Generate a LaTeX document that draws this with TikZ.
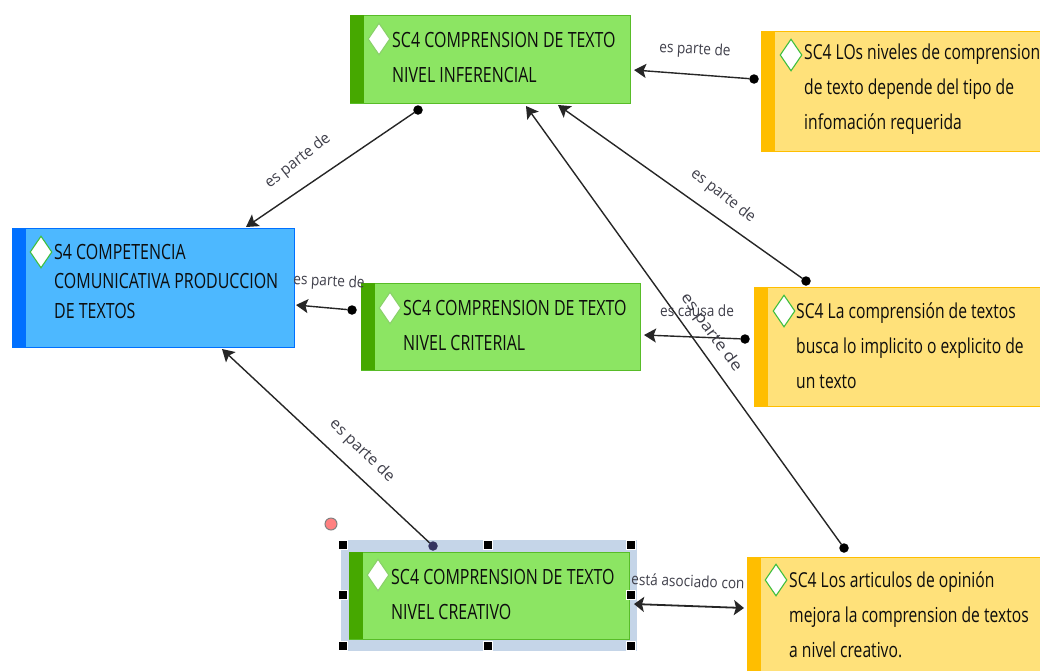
\documentclass[tikz,border=0pt]{standalone}
\usepackage{fontspec}
\setmainfont[FakeStretch=0.76]{Open Sans}
\newfontfamily\labfont[FakeStretch=0.88]{Open Sans}
\usetikzlibrary{shapes.geometric,arrows.meta}
\definecolor{gfill}{HTML}{8CE563}\definecolor{gband}{HTML}{46A800}\definecolor{gline}{HTML}{58BC28}
\definecolor{bfill}{HTML}{4DB8FF}\definecolor{bband}{HTML}{0070FF}
\definecolor{yfill}{HTML}{FFE17A}\definecolor{yband}{HTML}{FFBE00}
\definecolor{lab}{HTML}{3F3F4A}\definecolor{seln}{HTML}{C5D5E8}
\tikzset{
 x=1pt,y=-1pt,
 box/.style={draw=#1,line width=1pt,anchor=north west,inner sep=0,outer sep=0},
 boxtext/.style={anchor=west,align=left,inner sep=0,font=\fontsize{21}{35}\selectfont,text=black!95},
 ytext/.style={anchor=west,align=left,inner sep=0,font=\fontsize{20.6}{35}\selectfont,text=black!95},
 mark diamond/.style={diamond,draw=#1,fill=white,line width=1.1pt,minimum width=22pt,minimum height=32pt,inner sep=0,aspect=0.68},
 conn/.style={draw=black!85,line width=1.4pt,-{Stealth[length=12pt,width=14pt,inset=2.5pt]}},
 both/.style={draw=black!85,line width=1.8pt,{Stealth[length=10pt,width=15pt,inset=2pt]}-{Stealth[length=10pt,width=15pt,inset=2pt]}},
 enddot/.style={circle,fill=#1,minimum size=9.5pt,inner sep=0,outer sep=0},
 connlabel/.style={font=\labfont\fontsize{15.5}{15.5}\selectfont,text=lab,inner sep=0,fill=none},
 handle/.style={fill=black,draw=white,line width=.6pt,minimum size=9pt,inner sep=0},
}
\begin{document}
\begin{tikzpicture}
\useasboundingbox (0,0) rectangle (1040,670);
% selection
\fill[seln] (341,540) rectangle (637,651);
% boxes
\node[box=gline,fill=gfill,minimum width=280pt,minimum height=88pt] (inf) at (350,15) {};
\node[box=gline,fill=gfill,minimum width=279pt,minimum height=87pt] (crit) at (361,283) {};
\node[box=gline,fill=gfill,minimum width=280pt,minimum height=87pt] (cre) at (349,552) {};
\node[box=bband,fill=bfill,minimum width=282pt,minimum height=119pt] (comp) at (12,228) {};
\node[box=yband,fill=yfill,minimum width=290pt,minimum height=120pt] (yone) at (761,31) {};
\node[box=yband,fill=yfill,minimum width=296pt,minimum height=119pt] (ytwo) at (754,287) {};
\node[box=yband,fill=yfill,minimum width=303pt,minimum height=125pt] (ythree) at (747,557) {};
% bands
\fill[gband] (inf.north west) rectangle ([xshift=14pt]inf.south west);
\fill[gband] (crit.north west) rectangle ([xshift=14pt]crit.south west);
\fill[gband] (cre.north west) rectangle ([xshift=14pt]cre.south west);
\fill[bband] (comp.north west) rectangle ([xshift=14pt]comp.south west);
\fill[yband] (yone.north west) rectangle ([xshift=14pt]yone.south west);
\fill[yband] (ytwo.north west) rectangle ([xshift=14pt]ytwo.south west);
\fill[yband] (ythree.north west) rectangle ([xshift=14pt]ythree.south west);
% diamonds
\node[mark diamond=gfill!80!gray] (d1) at (379,39) {};
\node[mark diamond=gfill!80!gray] (d2) at (390,308) {};
\node[mark diamond=gfill!80!gray] (d3) at (378,575) {};
\node[mark diamond=green!50!gray] (d4) at (41,252) {};
\node[mark diamond=green!50!gray] (d5) at (791,55) {};
\node[mark diamond=green!50!gray] (d6) at (784,311) {};
\node[mark diamond=green!50!gray] (d7) at (776,580) {};
% texts
\node[boxtext] (t1) at (392,57) {SC4 COMPRENSION DE TEXTO\\NIVEL INFERENCIAL};
\node[boxtext] (t2) at (403,325) {SC4 COMPRENSION DE TEXTO\\NIVEL CRITERIAL};
\node[boxtext] (t3) at (391,594) {SC4 COMPRENSION DE TEXTO\\NIVEL CREATIVO};
\node[boxtext,font=\fontsize{21}{29.5}\selectfont] (t4) at (54,281) {S4 COMPETENCIA\\COMUNICATIVA PRODUCCION\\DE TEXTOS};
\node[ytext] (t5) at (804,89) {SC4 LOs niveles de comprension\\de texto depende del tipo de\\infomación requerida};
\node[ytext] (t6) at (796,346) {SC4 La comprensión de textos\\busca lo implicito o explicito de\\un texto};
\node[ytext] (t7) at (789,615) {SC4 Los articulos de opinión\\mejora la comprension de textos\\a nivel creativo.};
% end dots
\node[enddot=black] (p1) at ([xshift=68pt,yshift=-7pt]inf.south west) {};
\node[enddot=black] (p2) at ([xshift=-7pt,yshift=-48pt]yone.north west) {};
\node[enddot=black] (p3) at ([xshift=52pt,yshift=6pt]ytwo.north west) {};
\node[enddot=black] (p4) at ([xshift=97pt,yshift=9pt]ythree.north west) {};
\node[enddot=black] (p5) at ([xshift=-9pt,yshift=-27pt]crit.north west) {};
\node[enddot=black] (p6) at ([xshift=-9pt,yshift=-52pt]ytwo.north west) {};
\node[enddot=black!70!blue!60!gray] (p7) at ([xshift=84pt,yshift=6pt]cre.north west) {};
% connectors
\draw[conn] (p1) -- ([xshift=234pt,yshift=1pt]comp.north west);
\draw[conn] (p2) -- ([xshift=4pt,yshift=33pt]inf.south east);
\draw[conn] (p3) -- ([xshift=208pt,yshift=-2pt]inf.south west);
\draw[conn] (p4) -- ([xshift=176pt,yshift=-3pt]inf.south west);
\draw[conn] (p5) -- ([xshift=2pt,yshift=42pt]comp.south east);
\draw[conn] (p6) -- ([xshift=4pt,yshift=35pt]crit.south east);
\draw[conn] (p7) -- ([xshift=210pt,yshift=-2pt]comp.south west);
\draw[both] ([xshift=5pt,yshift=35pt]cre.south east) -- ([xshift=-3pt,yshift=-51pt]ythree.north west);
% labels
\node[connlabel,rotate=38,xscale=1.1] (l1) at (298,161) {es parte de};
\node[connlabel,rotate=-3] (l2) at (695,50) {es parte de};
\node[connlabel,rotate=-38,xscale=1.08] (l3) at (723,196) {es parte de};
\node[connlabel,rotate=-54,xscale=1.3] (l4) at (711,333) {es parte de};
\node[connlabel,rotate=-3] (l5) at (329,282) {es parte de};
\node[connlabel] (l6) at (697,311) {es causa de};
\node[connlabel,rotate=-44,xscale=1.17] (l7) at (362,451) {es parte de};
\node[connlabel,rotate=-2] (l8) at (688,581) {está asociado con};
% handles
\node[handle] (h1) at (343,545) {};
\node[handle] (h2) at (488,545) {};
\node[handle] (h3) at (631,545) {};
\node[handle] (h4) at (343,595) {};
\node[handle] (h5) at (631,595) {};
\node[handle] (h6) at (343,646) {};
\node[handle] (h7) at (488,646) {};
\node[handle] (h8) at (631,646) {};
\node[circle,fill=red!50!white,draw=gray,line width=1pt,minimum size=12pt,inner sep=0] (rot) at (331,524) {};
\end{tikzpicture}
\end{document}
